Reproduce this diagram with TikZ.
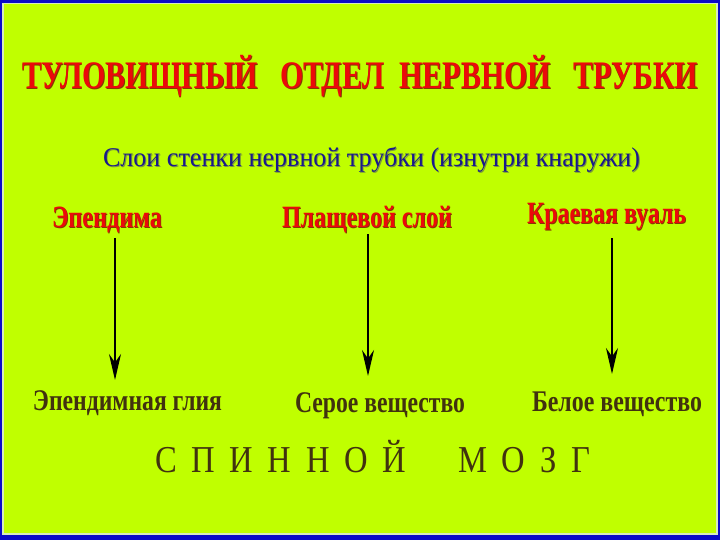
\documentclass[tikz,border=0pt]{standalone}
\usepackage{fontspec}
\setmainfont{Liberation Serif}
\usepackage{graphicx}
\usetikzlibrary{arrows.meta}
\definecolor{bg}{RGB}{192,255,0}
\definecolor{frameblue}{RGB}{10,10,200}
\definecolor{innerline}{RGB}{215,235,190}
\definecolor{titlered}{RGB}{235,10,10}
\definecolor{redshadow}{RGB}{130,60,0}
\definecolor{subblue}{RGB}{25,25,140}
\definecolor{subshadow}{RGB}{120,150,60}
\definecolor{olive}{RGB}{65,50,15}
\newcommand{\fitw}[2]{\resizebox{#1}{\height}{#2}}
\newcommand{\shad}[2]{\rlap{\hspace{1pt}\raisebox{-1pt}{\color{#1}#2}}#2}
\newcommand{\lsp}{\hspace{0.45em}}
\begin{document}
\begin{tikzpicture}[x=1pt,y=-1pt,
  txt/.style={inner sep=0pt, outer sep=0pt, anchor=base west},
  redlbl/.style={txt, text=titlered},
  brownlbl/.style={txt, text=olive},
  arr/.style={line width=2pt, -{Stealth[length=26pt,width=12pt]}}]
\useasboundingbox (0,0) rectangle (720,540);
\fill[frameblue] (0,0) rectangle (720,540);
\fill[innerline] (2,3) rectangle (718,535);
\fill[bg] (4,4) rectangle (716,533);

\node[redlbl] (title) at (22,89)
  {\fitw{676pt}{\fontsize{39}{39}\selectfont\bfseries\shad{redshadow}{ТУЛОВИЩНЫЙ\ \ \ ОТДЕЛ\ \ НЕРВНОЙ\ \ \ ТРУБКИ}}};

\node[txt, text=subblue] (sub) at (103,167)
  {\fitw{537pt}{\fontsize{27}{27}\selectfont\shad{subshadow}{Слои стенки нервной трубки (изнутри кнаружи)}}};

\node[redlbl] (e1) at (52,228)
  {\fitw{110pt}{\fontsize{31}{31}\selectfont\bfseries\shad{redshadow}{Эпендима}}};
\node[redlbl] (e2) at (282,228)
  {\fitw{170pt}{\fontsize{31}{31}\selectfont\bfseries\shad{redshadow}{Плащевой слой}}};
\node[redlbl] (e3) at (527,224)
  {\fitw{159pt}{\fontsize{31}{31}\selectfont\bfseries\shad{redshadow}{Краевая вуаль}}};

\node[brownlbl] (g1) at (33,410)
  {\fitw{189pt}{\fontsize{30}{30}\selectfont\bfseries Эпендимная глия}};
\node[brownlbl] (g2) at (295,412)
  {\fitw{170pt}{\fontsize{30}{30}\selectfont\bfseries Серое вещество}};
\node[brownlbl] (g3) at (532,411)
  {\fitw{170pt}{\fontsize{30}{30}\selectfont\bfseries Белое вещество}};

\node[brownlbl] (sm) at (155,472)
  {\fitw{435pt}{\fontsize{38}{38}\selectfont С\lsp П\lsp И\lsp Н\lsp Н\lsp О\lsp Й\hspace{1.6em}М\lsp О\lsp З\lsp Г}};

\coordinate (a1s) at (115,238);
\coordinate (a1e) at (115,380);
\coordinate (a2s) at (368,234);
\coordinate (a2e) at (368,376);
\coordinate (a3s) at (612,238);
\coordinate (a3e) at (612,374);
\draw[arr] (a1s) -- (a1e);
\draw[arr] (a2s) -- (a2e);
\draw[arr] (a3s) -- (a3e);
\end{tikzpicture}
\end{document}
